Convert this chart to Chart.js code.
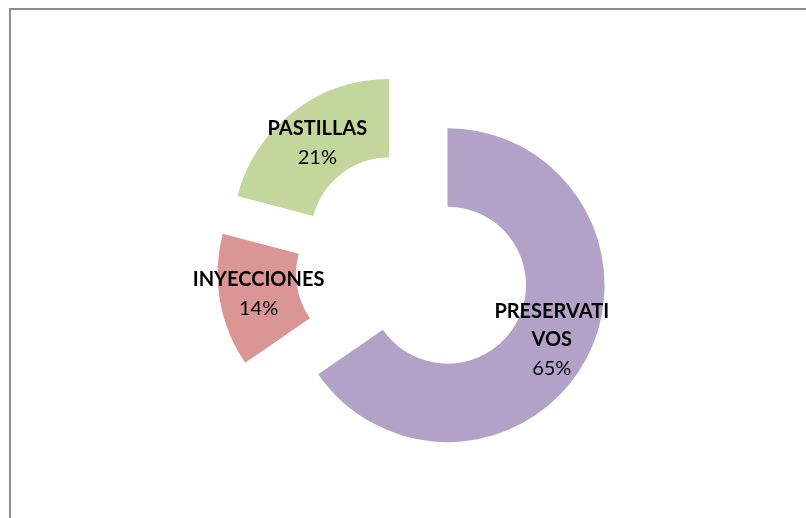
<!DOCTYPE html>
<html>
<head>
<meta charset="utf-8">
<script src="https://cdn.jsdelivr.net/npm/chart.js@4.4.0/dist/chart.umd.min.js"></script>
<style>
  html, body { margin: 0; padding: 0; background: #fff; overflow: hidden; }
  #wrap { position: relative; width: 806px; height: 518px; }
  #frame { position: absolute; left: 9px; top: 8px; width: 820px; height: 540px;
           border-top: 2px solid #8c8c8c; border-left: 2px solid #8c8c8c; box-sizing: border-box; }
  canvas { position: absolute; left: 0; top: 0; }
</style>
</head>
<body>
<div id="wrap">
  <div id="frame"></div>
  <canvas id="myChart" width="806" height="518"></canvas>
</div>
<script>
// the long label is broken the way Excel shows it
var categories = [['PRESERVATI', 'VOS'], 'INYECCIONES', 'PASTILLAS'];
var values = [65.4, 13.7, 20.9];
var colors = ['#b3a2c7', '#d99694', '#c3d69b'];

var FONT = 'Lato, "Open Sans", sans-serif';
var EXPLODE = 39;

// Excel explodes slices by moving each one outward along its middle angle
var explode = {
    id: 'explode',
    afterDatasetUpdate: function (chart, args) {
        var meta = chart.getDatasetMeta(args.index);
        meta.data.forEach(function (arc) {
            var mid = (arc.startAngle + arc.endAngle) / 2;
            arc.x += Math.cos(mid) * EXPLODE;
            arc.y += Math.sin(mid) * EXPLODE;
        });
    }
};

var sliceLabels = {
    id: 'sliceLabels',
    afterDatasetsDraw: function (chart) {
        var ctx = chart.ctx;
        var meta = chart.getDatasetMeta(0);
        var data = chart.data.datasets[0].data;
        var total = data.reduce(function (a, b) { return a + b; }, 0);
        ctx.save();
        ctx.fillStyle = '#000';
        ctx.textAlign = 'center';
        ctx.textBaseline = 'middle';
        meta.data.forEach(function (arc, i) {
            var mid = (arc.startAngle + arc.endAngle) / 2;
            var r = (arc.innerRadius + arc.outerRadius) / 2;
            var cx = arc.x + Math.cos(mid) * r;
            var cy = arc.y + Math.sin(mid) * r;
            var lbl = chart.data.labels[i];
            var lines = Array.isArray(lbl) ? lbl : [lbl];
            var pct = Math.round(data[i] / total * 100) + '%';
            var lh = 28;
            var n = lines.length + 1;
            var y0 = cy - (n - 1) * lh / 2;
            ctx.font = 'bold 20px ' + FONT;
            lines.forEach(function (ln, k) {
                ctx.fillText(ln, cx, y0 + k * lh);
            });
            ctx.font = '20px ' + FONT;
            ctx.fillText(pct, cx, y0 + lines.length * lh + 1);
        });
        ctx.restore();
    }
};

new Chart(document.getElementById('myChart').getContext('2d'), {
    type: 'doughnut',
    data: {
        labels: categories,
        datasets: [{
            data: values,
            backgroundColor: colors,
            borderWidth: 0,
            hoverOffset: 0
        }]
    },
    options: {
        responsive: false,
        animation: false,
        radius: 157,
        cutout: '50%',
        layout: { padding: { left: 20, right: 0, top: 16, bottom: 0 } },
        plugins: {
            legend: { display: false },
            tooltip: { enabled: false }
        },
        events: []
    },
    plugins: [explode, sliceLabels]
});
</script>
</body>
</html>
